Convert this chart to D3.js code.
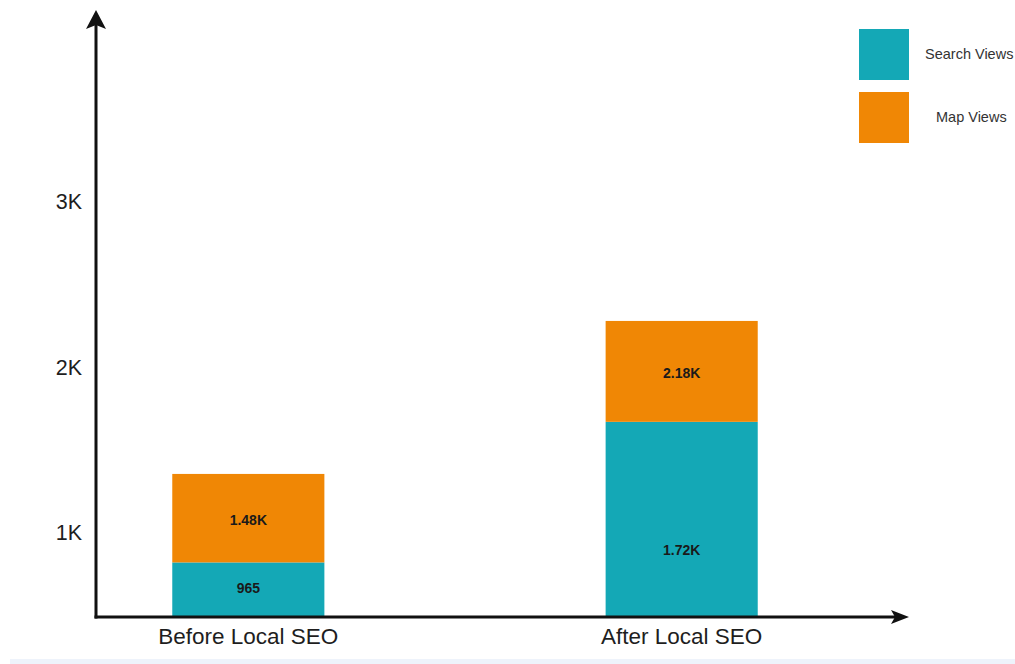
<!DOCTYPE html>
<html>
<head>
<meta charset="utf-8">
<script src="https://cdn.jsdelivr.net/npm/d3@7"></script>
<style>
  html, body { margin: 0; padding: 0; background: #fff; }
  svg { display: block; }
</style>
</head>
<body>
<svg id="chart" width="1015" height="664"></svg>
<script>
// ---- data ----
const categories = ["Before Local SEO", "After Local SEO"];
const seriesNames = ["Search Views", "Map Views"];
const seriesColors = ["#14a8b6", "#f08705"];
// stack levels as drawn against the axis (values)
const searchLevel = [820, 1670];
const totalLevel = [1355, 2280];
// printed value labels
const searchLabels = ["965", "1.72K"];
const mapLabels = ["1.48K", "2.18K"];
// where the printed labels sit (values on the axis)
const searchLabelLevel = [665, 895];
const mapLabelLevel = [1076, 1967];
// axis
const yTicks = [1000, 2000, 3000];
const yTickLabels = ["1K", "2K", "3K"];
const yDomain = [490, 4160];

const svg = d3.select("#chart");
svg.append("rect").attr("x", 0).attr("y", 0).attr("width", 1015).attr("height", 664).attr("fill", "#fff");
svg.append("rect").attr("x", 10).attr("y", 659).attr("width", 1005).attr("height", 5).attr("fill", "#eef3fb");

const x0 = 96, yBase = 617;
const y = d3.scaleLinear().domain(yDomain).range([yBase, 10]);
const x = d3.scaleBand().domain(categories).range([96, 834]).paddingInner(0.649).paddingOuter(0.176);

// bars
const rows = categories.map((c, i) => ({c, i}));
const g = svg.append("g");
g.selectAll("rect.search").data(rows).join("rect")
  .attr("class", "search")
  .attr("x", d => x(d.c)).attr("width", x.bandwidth())
  .attr("y", d => y(searchLevel[d.i])).attr("height", d => y(yDomain[0]) - y(searchLevel[d.i]))
  .attr("fill", seriesColors[0]);
g.selectAll("rect.map").data(rows).join("rect")
  .attr("class", "map")
  .attr("x", d => x(d.c)).attr("width", x.bandwidth())
  .attr("y", d => y(totalLevel[d.i])).attr("height", d => y(searchLevel[d.i]) - y(totalLevel[d.i]))
  .attr("fill", seriesColors[1]);

const lblFont = "'Liberation Sans', Arial, sans-serif";
g.selectAll("text.slbl").data(rows).join("text")
  .attr("x", d => x(d.c) + x.bandwidth() / 2).attr("y", d => y(searchLabelLevel[d.i]))
  .attr("dy", "0.35em").attr("text-anchor", "middle")
  .attr("font-family", lblFont).attr("font-size", 14).attr("font-weight", "bold").attr("fill", "#1a1a1a")
  .text(d => searchLabels[d.i]);
g.selectAll("text.mlbl").data(rows).join("text")
  .attr("x", d => x(d.c) + x.bandwidth() / 2).attr("y", d => y(mapLabelLevel[d.i]))
  .attr("dy", "0.35em").attr("text-anchor", "middle")
  .attr("font-family", lblFont).attr("font-size", 14).attr("font-weight", "bold").attr("fill", "#1a1a1a")
  .text(d => mapLabels[d.i]);

// y axis ticks (labels only)
const yAxis = d3.axisLeft(y).tickValues(yTicks).tickFormat((d, i) => yTickLabels[i]).tickSize(0).tickPadding(14);
const ya = svg.append("g").attr("transform", `translate(${x0},0)`).call(yAxis);
ya.select(".domain").remove();
ya.selectAll("text").attr("font-family", lblFont).attr("font-size", 21.5).attr("fill", "#1e1e1e");

// x axis labels
const xAxis = d3.axisBottom(x).tickSize(0).tickPadding(11);
const xa = svg.append("g").attr("transform", `translate(0,${yBase})`).call(xAxis);
xa.select(".domain").remove();
xa.selectAll("text").attr("font-family", lblFont).attr("font-size", 22.5).attr("fill", "#1e1e1e");

// axis lines with arrows
svg.append("line").attr("x1", x0).attr("y1", yBase + 1.5).attr("x2", x0).attr("y2", 24)
  .attr("stroke", "#111").attr("stroke-width", 3);
svg.append("path").attr("d", `M${x0},10 L${x0 + 10},29 L${x0},25 L${x0 - 10},29 Z`).attr("fill", "#111");
svg.append("line").attr("x1", x0 - 1.5).attr("y1", yBase).attr("x2", 896).attr("y2", yBase)
  .attr("stroke", "#111").attr("stroke-width", 3);
svg.append("path").attr("d", `M909,${yBase} L891,${yBase - 7} L895,${yBase} L891,${yBase + 7} Z`).attr("fill", "#111");

// legend
const leg = svg.append("g");
const legRows = seriesNames.map((n, i) => ({n, i}));
leg.selectAll("rect").data(legRows).join("rect")
  .attr("x", 859).attr("y", d => 29 + d.i * 63).attr("width", 50).attr("height", 51)
  .attr("fill", d => seriesColors[d.i]);
leg.selectAll("text").data(legRows).join("text")
  .attr("x", d => d.i === 0 ? 925 : 936).attr("y", d => 54 + d.i * 63).attr("dy", "0.35em")
  .attr("font-family", lblFont).attr("font-size", 14.5).attr("fill", "#333")
  .text(d => d.n);
</script>
</body>
</html>
